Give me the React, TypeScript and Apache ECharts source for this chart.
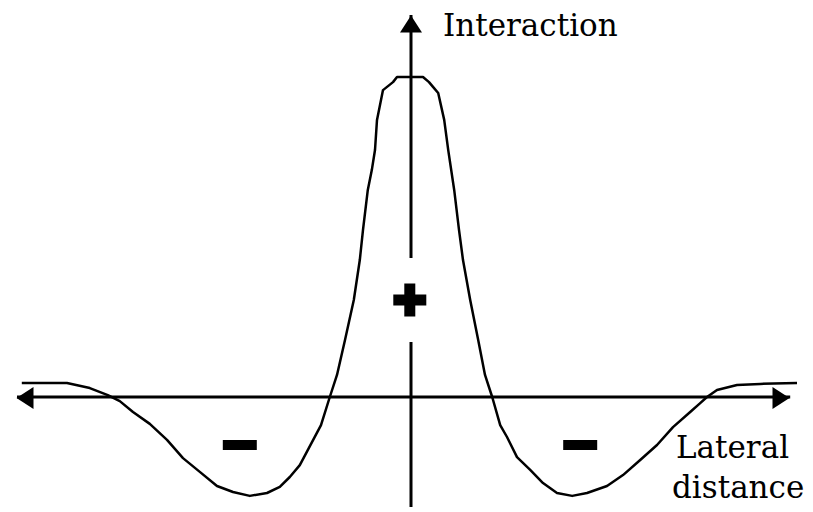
import React, { useEffect, useRef } from "react";
import * as echarts from "echarts";

// Lateral distance (x) and interaction strength (y)
const lateral = [
  -9.73, -9.15, -8.6, -8.03, -7.58, -7.28, -6.95, -6.53, -6.1, -5.7, -5.28, -4.85, -4.45, -4.03,
  -3.6, -3.28, -3.03, -2.78, -2.25, -2.03, -1.85, -1.65, -1.43, -1.28, -1.2, -1.08, -0.98, -0.9,
  -0.85, -0.7, -0.45, -0.35, 0.3, 0.45, 0.55, 0.68, 0.83, 0.93, 1.08, 1.2, 1.3, 1.48, 1.68, 1.85,
  2.03, 2.23, 2.4, 2.65, 2.98, 3.3, 3.65, 4.03, 4.4, 4.9, 5.3, 5.73, 6.15, 6.55, 6.98, 7.23, 7.4,
  7.65, 8.15, 8.73, 9.65,
];
const interaction = [
  0.44, 0.44, 0.44, 0.28, 0.06, -0.13, -0.47, -0.84, -1.34, -1.91, -2.34, -2.78, -2.97, -3.09,
  -3.0, -2.81, -2.5, -2.13, -0.88, 0, 0.69, 1.78, 3.03, 4.28, 5.22, 6.47, 7.09, 7.72, 8.66, 9.59,
  9.84, 10.0, 10.0, 9.84, 9.69, 9.5, 8.66, 7.72, 6.47, 5.22, 4.28, 3.03, 1.78, 0.69, 0, -0.88,
  -1.25, -1.88, -2.28, -2.69, -3.0, -3.09, -3.0, -2.78, -2.44, -1.97, -1.5, -0.94, -0.47, -0.19, 0,
  0.22, 0.375, 0.41, 0.44,
];

// Axis extents (data units)
const xRange = [-10, 10];
const yRange = [-3.5, 12];
const hAxisEnds = [-9.85, 9.48];
const vAxisLower = [-3.44, 1.72];
const vAxisUpper = [4.34, 11.94];
const arrowLeft = [-9.65, -0.03];
const arrowRight = [9.25, -0.03];
const arrowTop = [0, 11.66];

// Sign markers
const plusSign = [-0.03, 3.03];
const minusSigns = [
  [-4.28, -1.5],
  [4.23, -1.5],
];

const yLabel = "Interaction";
const xLabelLines = ["Lateral", "distance"];

export default function App() {
  const ref = useRef<HTMLDivElement>(null);
  useEffect(() => {
    if (!ref.current) return;
    const chart = echarts.init(ref.current, null, { renderer: "svg" });
    const curve = lateral.map((x, i) => [x, interaction[i]]);
    const font = "31px 'DejaVu Serif'";
    chart.setOption({
      animation: false,
      backgroundColor: "#ffffff",
      grid: { left: 11, right: 2, top: 13, bottom: 3 },
      xAxis: { type: "value", min: xRange[0], max: xRange[1], show: false },
      yAxis: { type: "value", min: yRange[0], max: yRange[1], show: false },
      series: [
        {
          type: "line",
          data: [
            [hAxisEnds[0], 0],
            [hAxisEnds[1], 0],
          ],
          symbol: "none",
          lineStyle: { color: "#000", width: 3, opacity: 1 },
          silent: true,
        },
        {
          type: "line",
          data: [
            [0, vAxisLower[0]],
            [0, vAxisLower[1]],
            [0, "-"],
            [0, vAxisUpper[0]],
            [0, vAxisUpper[1]],
          ],
          symbol: "none",
          connectNulls: false,
          lineStyle: { color: "#000", width: 3, opacity: 1 },
          silent: true,
        },
        {
          type: "line",
          data: curve,
          symbol: "none",
          smooth: false,
          lineStyle: { color: "#000", width: 2.5, opacity: 1, join: "round" },
          silent: true,
        },
        {
          type: "scatter",
          silent: true,
          itemStyle: { color: "#000", opacity: 1 },
          data: [
            { value: arrowLeft, symbol: "triangle", symbolSize: [22, 17], symbolRotate: 90 },
            { value: arrowRight, symbol: "triangle", symbolSize: [22, 17], symbolRotate: -90 },
            { value: arrowTop, symbol: "triangle", symbolSize: [22, 17], symbolRotate: 0 },
            {
              value: plusSign,
              symbol: "path://M11,0H22V11H33V22H22V33H11V22H0V11H11Z",
              symbolSize: [33, 33],
            },
            ...minusSigns.map((p) => ({ value: p, symbol: "rect", symbolSize: [34, 10] })),
          ],
        },
      ],
      graphic: [
        {
          type: "text",
          left: 443,
          top: 9,
          style: { text: yLabel, font, fill: "#000" },
        },
        {
          type: "text",
          left: 676,
          top: 431,
          style: { text: xLabelLines[0], font, fill: "#000" },
        },
        {
          type: "text",
          left: 672,
          top: 471,
          style: { text: xLabelLines[1], font, fill: "#000" },
        },
      ],
    });
    return () => chart.dispose();
  }, []);
  return (
    <div
      ref={ref}
      style={{ position: "absolute", left: 0, top: 0, width: 813, height: 512, background: "#fff" }}
    />
  );
}
